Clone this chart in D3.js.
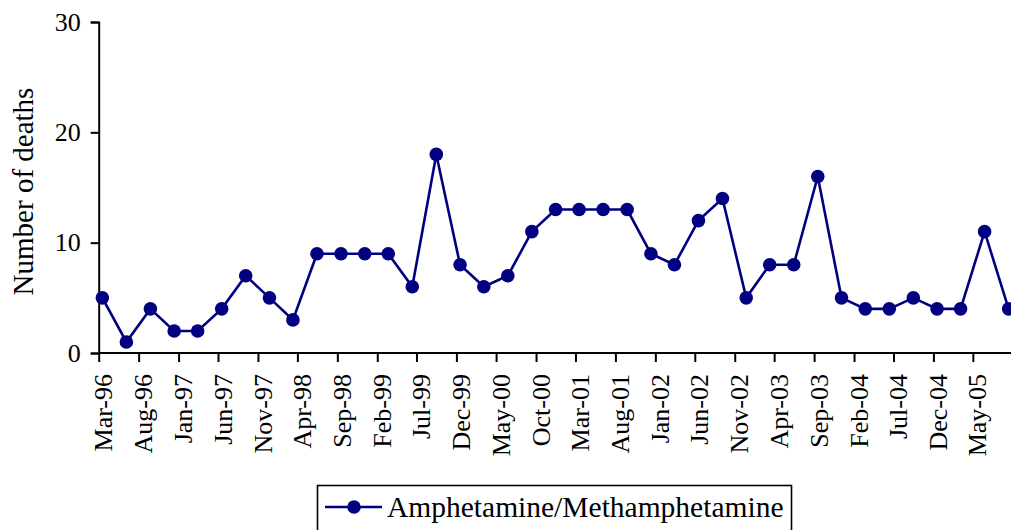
<!DOCTYPE html>
<html>
<head>
<meta charset="utf-8">
<script src="https://cdn.jsdelivr.net/npm/d3@7"></script>
<style>
  html, body { margin: 0; padding: 0; background: #fff; }
  svg { display: block; }
  text { font-family: "Liberation Serif", "Times New Roman", serif; fill: #000; }
</style>
</head>
<body>
<svg id="chart" width="1011" height="530"></svg>
<script>
// ---- data ----
const dates = [
  "1996-03-15","1996-06-15","1996-09-15","1996-12-15",
  "1997-03-15","1997-06-15","1997-09-15","1997-12-15",
  "1998-03-15","1998-06-15","1998-09-15","1998-12-15",
  "1999-03-15","1999-06-15","1999-09-15","1999-12-15",
  "2000-03-15","2000-06-15","2000-09-15","2000-12-15",
  "2001-03-15","2001-06-15","2001-09-15","2001-12-15",
  "2002-03-15","2002-06-15","2002-09-15","2002-12-15",
  "2003-03-15","2003-06-15","2003-09-15","2003-12-15",
  "2004-03-15","2004-06-15","2004-09-15","2004-12-15",
  "2005-03-15","2005-06-15","2005-09-15"
];
const deaths = [
  5, 1, 4, 2,
  2, 4, 7, 5,
  3, 9, 9, 9,
  9, 6, 18, 8,
  6, 7, 11, 13,
  13, 13, 13, 9,
  8, 12, 14, 5,
  8, 8, 16, 5,
  4, 4, 5, 4,
  4, 11, 4
];
const tickLabels = [
  "Mar-96","Aug-96","Jan-97","Jun-97","Nov-97","Apr-98","Sep-98","Feb-99",
  "Jul-99","Dec-99","May-00","Oct-00","Mar-01","Aug-01","Jan-02","Jun-02",
  "Nov-02","Apr-03","Sep-03","Feb-04","Jul-04","Dec-04","May-05"
];
const yTicks = [0, 10, 20, 30];
const seriesName = "Amphetamine/Methamphetamine";
const yTitle = "Number of deaths";

// ---- helpers ----
const monthIdx = {Jan:0,Feb:1,Mar:2,Apr:3,May:4,Jun:5,Jul:6,Aug:7,Sep:8,Oct:9,Nov:10,Dec:11};
function labelToDate(l) {
  const [m, yy] = l.split("-");
  const y = +yy < 50 ? 2000 + +yy : 1900 + +yy;
  return new Date(Date.UTC(y, monthIdx[m], 1));
}
const parse = d3.utcParse("%Y-%m-%d");
const data = dates.map((d, i) => ({date: parse(d), value: deaths[i]}));
const tickDates = tickLabels.map(labelToDate);

// ---- scales ----
const svg = d3.select("#chart");
const x = d3.scaleUtc()
  .domain([new Date(Date.UTC(1996, 2, 1)), new Date(Date.UTC(2005, 9, 1))])
  .range([98.7, 1012.8]);
const y = d3.scaleLinear().domain([0, 30]).range([353, 22]);
const color = "#000080";

// ---- y axis ----
const yAxis = svg.append("g")
  .attr("transform", `translate(${x.range()[0]},0)`)
  .call(d3.axisLeft(y).tickValues(yTicks).tickSize(8).tickPadding(10).tickFormat(d3.format("d")));
yAxis.select(".domain").attr("stroke", "#000").attr("stroke-width", 2);
yAxis.selectAll(".tick line").attr("stroke", "#000").attr("stroke-width", 2);
yAxis.selectAll(".tick text")
  .style("font-family", '"Liberation Serif", serif')
  .style("font-size", "26px")
  .attr("fill", "#000");

// ---- x axis ----
const xAxis = svg.append("g")
  .attr("transform", `translate(0,${y(0)})`)
  .call(d3.axisBottom(x).tickValues(tickDates).tickSize(9).tickFormat((d, i) => tickLabels[i]));
xAxis.select(".domain").attr("stroke", "#000").attr("stroke-width", 2)
  .attr("d", `M${x.range()[0]},0H${x.range()[1]}`);
xAxis.selectAll(".tick line").attr("stroke", "#000").attr("stroke-width", 2);
xAxis.selectAll(".tick text")
  .style("font-family", '"Liberation Serif", serif')
  .style("font-size", "26px")
  .attr("fill", "#000")
  .attr("text-anchor", "end")
  .attr("transform", "rotate(-90)")
  .attr("x", -21)
  .attr("y", 4)
  .attr("dy", "0.35em");

// ---- y title ----
svg.append("text")
  .attr("transform", `translate(33,191.5) rotate(-90)`)
  .attr("text-anchor", "middle")
  .style("font-size", "29px")
  .text(yTitle);

// ---- series ----
const line = d3.line().x(d => x(d.date)).y(d => y(d.value));
svg.append("path")
  .datum(data)
  .attr("fill", "none")
  .attr("stroke", color)
  .attr("stroke-width", 2.6)
  .attr("d", line);
svg.append("g").selectAll("circle")
  .data(data)
  .join("circle")
  .attr("cx", d => x(d.date))
  .attr("cy", d => y(d.value))
  .attr("r", 6.8)
  .attr("fill", color);

// ---- legend ----
const lg = svg.append("g");
lg.append("rect")
  .attr("x", 317.5).attr("y", 485.5)
  .attr("width", 474).attr("height", 60)
  .attr("fill", "#fff").attr("stroke", "#000").attr("stroke-width", 1.6);
lg.append("line")
  .attr("x1", 325).attr("x2", 382).attr("y1", 507).attr("y2", 507)
  .attr("stroke", color).attr("stroke-width", 2.6);
lg.append("circle").attr("cx", 354).attr("cy", 507).attr("r", 6.8).attr("fill", color);
lg.append("text")
  .attr("x", 387).attr("y", 517)
  .style("font-size", "29.5px")
  .text(seriesName);
</script>
</body>
</html>
